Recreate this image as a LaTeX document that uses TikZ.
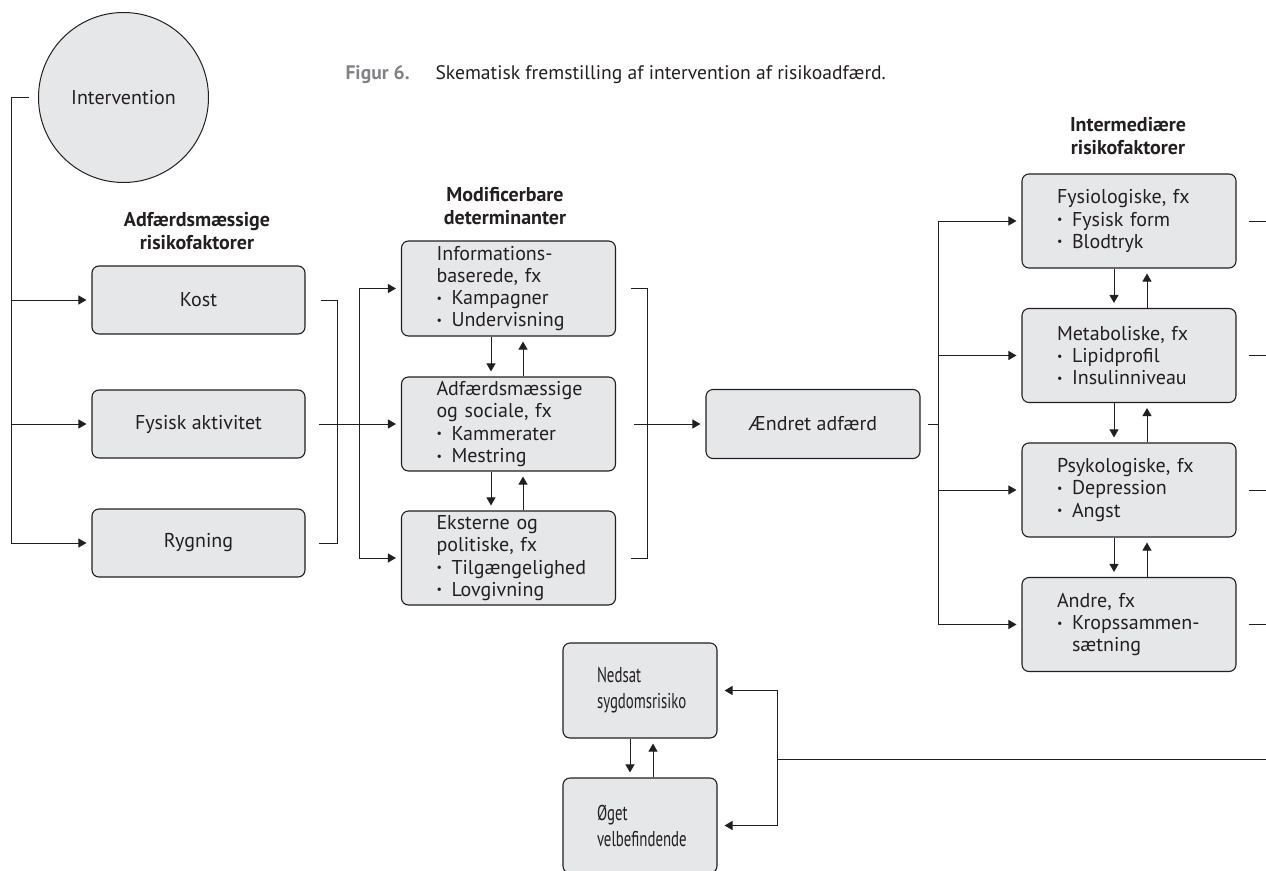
\documentclass[tikz,border=0pt]{standalone}
\usepackage{fontspec}
\setmainfont{PT Sans}
\newfontfamily\condfont{PT Sans}[FakeStretch=0.69]
\usetikzlibrary{arrows.meta}
\definecolor{boxfill}{HTML}{E6E7E8}
\definecolor{ink}{HTML}{231F20}
\definecolor{capgrey}{HTML}{808285}
\newcommand{\bul}{\makebox[15pt][l]{\raisebox{0.12em}{\scalebox{0.6}{•}}}}
\begin{document}
\begin{tikzpicture}[x=1pt,y=-1pt,
  every node/.style={text=ink, font=\fontsize{20}{22.3}\selectfont},
  box/.style={draw=ink, fill=boxfill, rounded corners=7pt, line width=1.1pt},
  sbox/.style={box, minimum width=213pt, minimum height=68pt, inner sep=0pt},
  lbox/.style={box, text width=144pt, inner xsep=35pt, inner ysep=0pt, align=left, minimum height=94pt},
  nbox/.style={box, text width=100pt, inner xsep=27pt, inner ysep=0pt, align=left, minimum height=95pt, font=\condfont\fontsize{21.5}{26}\selectfont},
  circ/.style={circle, draw=ink, fill=boxfill, line width=1pt, minimum size=170pt, inner sep=0pt},
  title/.style={align=center, font=\fontsize{20}{23}\selectfont\bfseries},
  ln/.style={draw=ink, line width=1pt},
  arr/.style={ln, -{Triangle[length=8pt,width=9pt]}, shorten >=5pt}
]
\useasboundingbox (0,0) rectangle (1266,870);

% caption
\node[anchor=base west, font=\fontsize{19.6}{22}\selectfont\bfseries, text=capgrey] (fig) at (342,79) {Figur 6.};
\node[anchor=base west, font=\fontsize{19.6}{22}\selectfont] (cap) at (432,79) {Skematisk fremstilling af intervention af risikoadfærd.};

% intervention
\node[circ] (int) at (123.5,97.5) {Intervention};

% titles
\node[title] (t1) at (197,231.5) {Adfærdsmæssige\\risikofaktorer};
\node[title] (t2) at (505,206) {Modificerbare\\determinanter};
\node[title] (t3) at (1128,136.5) {Intermediære\\risikofaktorer};

% left boxes
\node[sbox] (kost) at (198.5,300) {Kost};
\node[sbox] (fys) at (198.5,424) {Fysisk aktivitet};
\node[sbox] (ryg) at (198.5,543) {Rygning};

% middle boxes
\node[lbox, minimum height=95pt] (info) at (508.5,288.5) {Informations-\\baserede, fx\\\bul Kampagner\\\bul Undervisning};
\node[lbox] (adf) at (508.5,424) {Adfærdsmæssige\\og sociale, fx\\\bul Kammerater\\\bul Mestring};
\node[lbox] (eks) at (508.5,558) {Eksterne og\\politiske, fx\\\bul Tilgængelighed\\\bul Lovgivning};

% changed behaviour
\node[sbox, minimum width=214pt, minimum height=69pt] (aend) at (813,424) {Ændret adfærd};

% right boxes
\node[lbox] (fysio) at (1129,221) {Fysiologiske, fx\\\bul Fysisk form\\\bul Blodtryk};
\node[lbox] (meta) at (1129,355.5) {Metaboliske, fx\\\bul Lipidprofil\\\bul Insulinniveau};
\node[lbox] (psyk) at (1129,490) {Psykologiske, fx\\\bul Depression\\\bul Angst};
\node[lbox] (andre) at (1129,624.5) {Andre, fx\\\bul Kropssammen-\\\hspace*{15pt}sætning};

% bottom boxes
\node[nbox] (ned) at (640,690.5) {\hspace*{7pt}Nedsat\\\hspace*{7pt}sygdomsrisiko};
\node[nbox] (oget) at (640,825.5) {\hspace*{7pt}Øget\\\hspace*{7pt}velbefindende};

% coordinates
\coordinate (lt) at (11,97.5);
\coordinate (lbr) at (337,300);
\coordinate (mt) at (359,288.5);
\coordinate (mbr) at (647,288.5);
\coordinate (rt) at (938,221);
\coordinate (redge) at (1266,0);
\coordinate (bj) at (777,759);
\coordinate (bedge) at (1266,759);

% left trunk
\draw[arr, shorten <=9pt] (int.west) -- (lt) |- (ryg.west);
\draw[arr] (lt |- kost.west) -- (kost.west);
\draw[arr] (lt |- fys.west) -- (fys.west);

% left bracket
\draw[ln, shorten <=15pt, shorten >=13pt] (kost.east) -- (lbr) |- (ryg.east);
\draw[arr, shorten <=13pt] (fys.east) -- (adf.west);

% middle trunk
\draw[arr] (mt) -- (info.west);
\draw[arr] (mt) |- (eks.west);

% middle feedback arrows
\draw[arr] ([xshift=-17.5pt]info.south) -- ([xshift=-17.5pt]adf.north);
\draw[arr] ([xshift=14.5pt]adf.north) -- ([xshift=14.5pt]info.south);
\draw[arr] ([xshift=-17.5pt]adf.south) -- ([xshift=-17.5pt]eks.north);
\draw[arr] ([xshift=14.5pt]eks.north) -- ([xshift=14.5pt]adf.south);

% middle bracket
\draw[ln, shorten <=15pt, shorten >=15pt] (info.east) -- (mbr) |- (eks.east);
\draw[arr, shorten <=18pt] (adf.east) -- (aend.west);

% right trunk
\draw[ln, shorten <=7pt] (aend.east) -- (rt |- aend.east);
\draw[arr] (rt) -- (fysio.west);
\draw[arr] (rt) |- (andre.west);
\draw[arr] (rt |- meta.west) -- (meta.west);
\draw[arr] (rt |- psyk.west) -- (psyk.west);

% right feedback arrows
\draw[arr] ([xshift=-15pt]fysio.south) -- ([xshift=-15pt]meta.north);
\draw[arr] ([xshift=18pt]meta.north) -- ([xshift=18pt]fysio.south);
\draw[arr] ([xshift=-15pt]meta.south) -- ([xshift=-15pt]psyk.north);
\draw[arr] ([xshift=18pt]psyk.north) -- ([xshift=18pt]meta.south);
\draw[arr] ([xshift=-15pt]psyk.south) -- ([xshift=-15pt]andre.north);
\draw[arr] ([xshift=18pt]andre.north) -- ([xshift=18pt]psyk.south);

% right outgoing lines
\draw[ln, shorten <=12pt] (fysio.east) -- (fysio.east -| redge);
\draw[ln, shorten <=12pt] (meta.east) -- (meta.east -| redge);
\draw[ln, shorten <=12pt] (psyk.east) -- (psyk.east -| redge);
\draw[ln, shorten <=12pt] (andre.east) -- (andre.east -| redge);

% bottom
\draw[ln] (bedge) -- (bj);
\draw[arr, shorten >=7pt] (bj) |- (ned.east);
\draw[arr, shorten >=7pt] (bj) |- (oget.east);
\draw[arr] ([xshift=-10pt]ned.south) -- ([xshift=-10pt]oget.north);
\draw[arr] ([xshift=13pt]oget.north) -- ([xshift=13pt]ned.south);
\end{tikzpicture}
\end{document}
